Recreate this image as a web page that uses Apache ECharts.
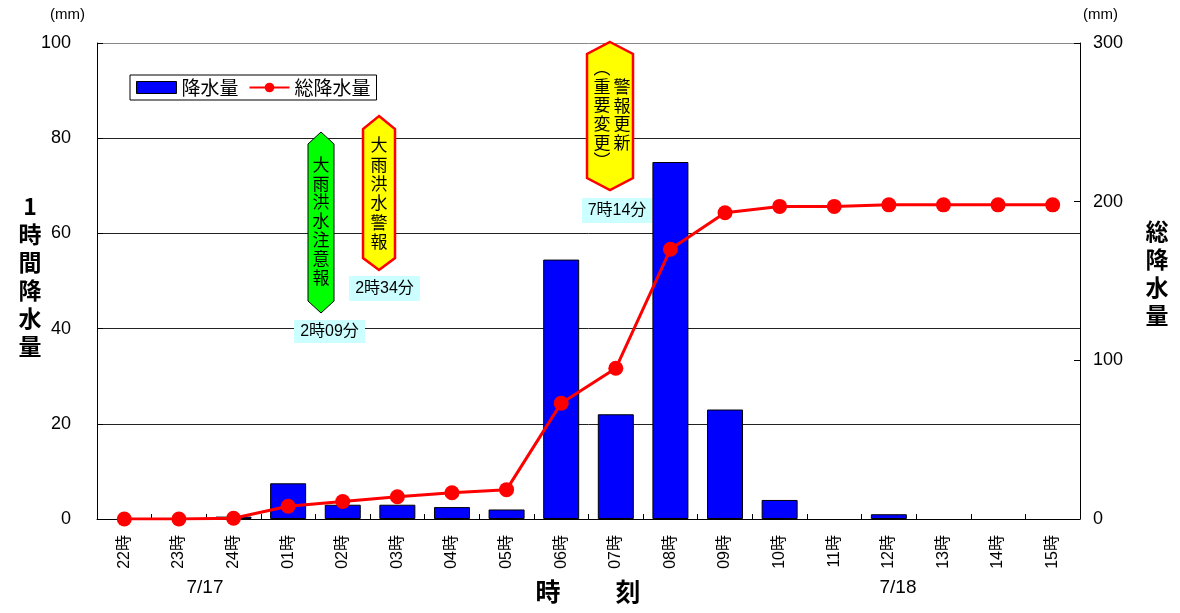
<!DOCTYPE html>
<html><head><meta charset="utf-8">
<script src="https://cdn.jsdelivr.net/npm/echarts@6/dist/echarts.min.js"></script>
<style>html,body{margin:0;padding:0;background:#fff}#c{width:1180px;height:613px}</style>
</head><body><div id="c"></div>
<script>
const categories = ['22時','23時','24時','01時','02時','03時','04時','05時','06時','07時','08時','09時','10時','11時','12時','13時','14時','15時'];
const hourlyRain = [0,0,0.5,7.5,3,3,2.5,2,54.5,22,75,23,4,0,1,0,0,0];
const totalRain = [0,0,0.5,8,11,14,16.5,18.5,73,95,170,193,197,197,198,198,198,198];
const leftTicks = [0,20,40,60,80,100];
const rightTicks = [0,100,200,300];

const JP = '"Liberation Sans", Arial, "Noto Sans CJK JP", sans-serif';
const chart = echarts.init(document.getElementById('c'));

function hex(x1, x2, yTop, yShTop, yShBot, yBot, fill, stroke) {
  const xm = (x1 + x2) / 2;
  return {type:'polygon', shape:{points:[[xm,yTop],[x2,yShTop],[x2,yShBot],[xm,yBot],[x1,yShBot],[x1,yShTop]]},
    style:{fill:fill, stroke:stroke, lineWidth:stroke==='#ff0000'?2.5:1}, z:100};
}
function vtext(str, x, y, lh, size) {
  return {type:'text', x:x, y:y, z:101, style:{text:str.split('').join('\n'), font:`${size||17}px "Noto Sans CJK JP"`, fill:'#000', align:'center', verticalAlign:'top', lineHeight:lh}};
}
function tag(str, x, y, w, h) {
  return {type:'group', z:100, children:[
    {type:'rect', shape:{x:x, y:y, width:w, height:h}, style:{fill:'#ccffff'}, z:100},
    {type:'text', x:x+w/2, y:y+h/2, z:101, style:{text:str, font:'16px "Liberation Sans", "Noto Sans CJK JP"', fill:'#000', align:'center', verticalAlign:'middle'}}
  ]};
}

const option = {
  animation:false,
  backgroundColor:'#fff',
  grid:{left:97, right:100, top:43, bottom:94},
  legend:{
    left:130, top:75, orient:'horizontal',
    borderColor:'#000', borderWidth:1, padding:[3,6,3,6], itemGap:10,
    textStyle:{fontSize:19, fontFamily:'"Noto Sans CJK JP"', color:'#000', padding:[0,0,0,0]},
    data:[{name:'降水量', icon:'rect', itemStyle:{borderColor:'#000', borderWidth:1}}, {name:'総降水量'}],
    itemWidth:40, itemHeight:12
  },
  xAxis:{
    type:'category', data:categories,
    axisLine:{lineStyle:{color:'#000', width:1}},
    axisTick:{show:true, inside:true, length:5, alignWithLabel:false, lineStyle:{color:'#000'}},
    axisLabel:{rotate:90, margin:16, fontSize:16, fontFamily:JP, color:'#000'}
  },
  yAxis:[
    {type:'value', min:0, max:100, interval:20, position:'left',
     axisLine:{show:true, lineStyle:{color:'#000'}},
     axisTick:{show:true, inside:true, length:6, lineStyle:{color:'#000'}},
     axisLabel:{fontSize:18, fontFamily:JP, color:'#000', margin:26},
     splitLine:{show:true, lineStyle:{color:['#000','#222','#222','#222','#222','#888'], width:1}}},
    {type:'value', min:0, max:300, interval:100, position:'right',
     axisLine:{show:true, lineStyle:{color:'#000'}},
     axisTick:{show:true, inside:true, length:6, lineStyle:{color:'#000'}},
     axisLabel:{fontSize:18, fontFamily:JP, color:'#000', margin:13},
     splitLine:{show:false}}
  ],
  series:[
    {name:'降水量', type:'bar', data:hourlyRain.map(v => v === 0 ? '-' : v), yAxisIndex:0, barWidth:36,
     itemStyle:{color:'#0000ff', borderColor:'#000', borderWidth:1}},
    {name:'総降水量', type:'line', data:totalRain, yAxisIndex:1,
     symbol:'circle', symbolSize:15, lineStyle:{color:'#ff0000', width:3},
     itemStyle:{color:'#ff0000'}, z:10}
  ],
  graphic:[
    {type:'text', left:50, top:7, style:{text:'(mm)', font:'15px "Liberation Sans"', fill:'#000'}},
    {type:'text', left:1083, top:7, style:{text:'(mm)', font:'15px "Liberation Sans"', fill:'#000'}},
    {type:'text', x:30, y:192, style:{text:'1\n時\n間\n降\n水\n量', font:'bold 23px "Noto Sans CJK JP"', fill:'#000', align:'center', lineHeight:28}},
    {type:'text', x:1157, y:217, style:{text:'総\n降\n水\n量', font:'bold 23px "Noto Sans CJK JP"', fill:'#000', align:'center', lineHeight:28}},
    {type:'text', x:205, y:578, style:{text:'7/17', font:'19px "Liberation Sans"', fill:'#000', align:'center'}},
    {type:'text', x:898, y:578, style:{text:'7/18', font:'19px "Liberation Sans"', fill:'#000', align:'center'}},
    {type:'text', x:548, y:579, style:{text:'時', font:'bold 25px "Noto Sans CJK JP"', fill:'#000', align:'center'}},
    {type:'text', x:628, y:579, style:{text:'刻', font:'bold 25px "Noto Sans CJK JP"', fill:'#000', align:'center'}},
    hex(308, 334, 132, 144, 301, 313, '#00ff00', '#000'),
    vtext('大雨洪水注意報', 321, 155, 18.8, 17),
    tag('2時09分', 294, 320, 71, 23),
    hex(363, 395, 116, 129, 258, 270, '#ffff00', '#ff0000'),
    vtext('大雨洪水警報', 379, 135, 19.4, 17),
    tag('2時34分', 349, 276, 71, 25),
    hex(587, 633, 42, 54, 178, 190, '#ffff00', '#ff0000'),
    vtext('警報更新', 622, 77, 18.7, 17),
    vtext('︵重要変更︶', 602, 58, 18.7, 17),
    tag('7時14分', 582, 198, 70, 25)
  ]
};
chart.setOption(option);
</script></body></html>
